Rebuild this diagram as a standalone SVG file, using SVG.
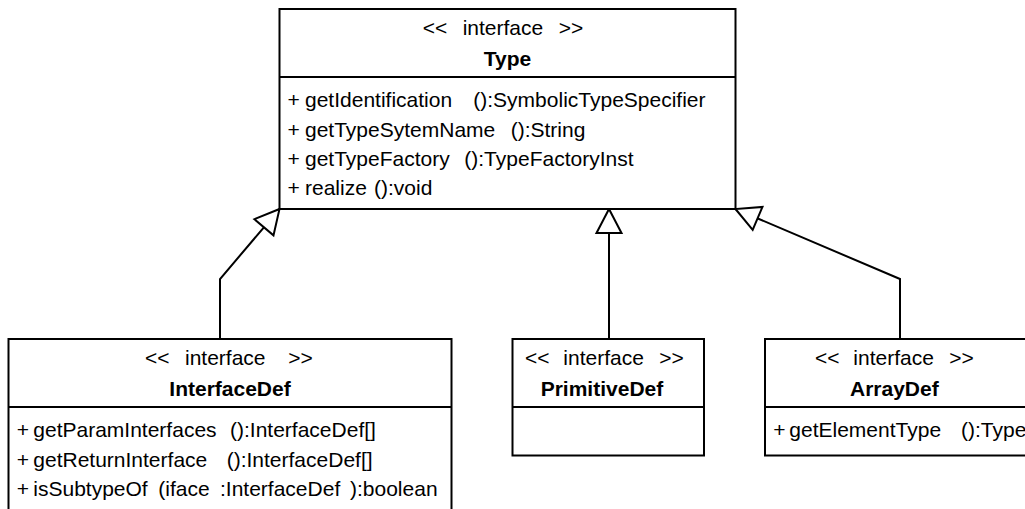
<svg xmlns="http://www.w3.org/2000/svg" width="1025" height="509" viewBox="0 0 1025 509">
  <style>
    .box { fill: #ffffff; stroke: #000000; stroke-width: 2; }
    .div { stroke: #000000; stroke-width: 2; }
    .t { font-family: "Liberation Sans", Arial, Helvetica, sans-serif; font-size: 21px; fill: #000000; }
    .b { font-family: "Liberation Sans", Arial, Helvetica, sans-serif; font-size: 21px; font-weight: bold; fill: #000000; }
    .edge { fill: none; stroke: #000000; stroke-width: 2; }
  </style>
  <defs>
    <marker id="gen" markerUnits="userSpaceOnUse" markerWidth="28" markerHeight="28" refX="24" refY="12.5" orient="auto" overflow="visible">
      <path d="M24,12.5 L0,0 L0,25 Z" fill="#ffffff" stroke="#000000" stroke-width="2" stroke-linejoin="miter"/>
    </marker>
  </defs>

  <rect width="1025" height="509" fill="#ffffff"/>

  <!-- generalisation connectors -->
  <g id="connectors">
    <path class="edge" d="M220,339 L220,279 L279.5,209" marker-end="url(#gen)"/>
    <path class="edge" d="M609,339 L609,209" marker-end="url(#gen)"/>
    <path class="edge" d="M900,339 L900,279 L735.5,209" marker-end="url(#gen)"/>
  </g>

  <!-- Type -->
  <g id="Type">
    <rect class="box" x="279.5" y="9" width="456" height="200"/>
    <line class="div" x1="279.5" y1="77" x2="735.5" y2="77"/>
    <text class="t" y="35"><tspan x="422.7">&lt;&lt;</tspan><tspan x="462.7">interface</tspan><tspan x="558.7">&gt;&gt;</tspan></text>
    <text class="b" x="507.5" y="66" text-anchor="middle">Type</text>
    <text class="t" y="107"><tspan x="287.5">+</tspan><tspan x="305">getIdentification</tspan><tspan x="473.3">():SymbolicTypeSpecifier</tspan></text>
    <text class="t" y="137"><tspan x="287.5">+</tspan><tspan x="305">getTypeSytemName</tspan><tspan x="510.7">():String</tspan></text>
    <text class="t" y="166"><tspan x="287.5">+</tspan><tspan x="305">getTypeFactory</tspan><tspan x="464.3">():TypeFactoryInst</tspan></text>
    <text class="t" y="195"><tspan x="287.5">+</tspan><tspan x="305">realize</tspan><tspan x="374">():void</tspan></text>
  </g>

  <!-- InterfaceDef -->
  <g id="InterfaceDef">
    <rect class="box" x="8.5" y="339" width="443" height="190"/>
    <line class="div" x1="8.5" y1="407" x2="451.5" y2="407"/>
    <text class="t" y="365"><tspan x="145">&lt;&lt;</tspan><tspan x="185">interface</tspan><tspan x="288.3">&gt;&gt;</tspan></text>
    <text class="b" x="230" y="396" text-anchor="middle">InterfaceDef</text>
    <text class="t" y="437"><tspan x="16.7">+</tspan><tspan x="33.3">getParamInterfaces</tspan><tspan x="230">():InterfaceDef[]</tspan></text>
    <text class="t" y="467"><tspan x="16.7">+</tspan><tspan x="33.3">getReturnInterface</tspan><tspan x="226.7">():InterfaceDef[]</tspan></text>
    <text class="t" y="496"><tspan x="16.7">+</tspan><tspan x="33.3">isSubtypeOf</tspan><tspan x="158.3">(iface</tspan><tspan x="220">:InterfaceDef</tspan><tspan x="350">):boolean</tspan></text>
  </g>

  <!-- PrimitiveDef -->
  <g id="PrimitiveDef">
    <rect class="box" x="512.5" y="339" width="191.5" height="116.5"/>
    <line class="div" x1="512.5" y1="407" x2="704" y2="407"/>
    <text class="t" y="365"><tspan x="525">&lt;&lt;</tspan><tspan x="563.3">interface</tspan><tspan x="659.3">&gt;&gt;</tspan></text>
    <text class="b" x="540.7" y="396">PrimitiveDef</text>
  </g>

  <!-- ArrayDef -->
  <g id="ArrayDef">
    <rect class="box" x="765" y="339" width="280" height="116.5"/>
    <line class="div" x1="765" y1="407" x2="1045" y2="407"/>
    <text class="t" y="365"><tspan x="815">&lt;&lt;</tspan><tspan x="853.3">interface</tspan><tspan x="949.3">&gt;&gt;</tspan></text>
    <text class="b" x="850" y="396">ArrayDef</text>
    <text class="t" y="437"><tspan x="773.3">+</tspan><tspan x="789.3">getElementType</tspan><tspan x="961">():Type</tspan></text>
  </g>
</svg>
